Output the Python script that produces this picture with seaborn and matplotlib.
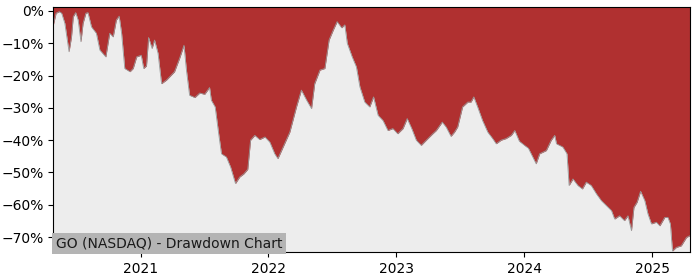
import matplotlib
matplotlib.use("Agg")
import matplotlib.pyplot as plt
import matplotlib.dates as mdates
from matplotlib.ticker import PercentFormatter
import seaborn as sns
import pandas as pd

dates = [
    "2020-04-27", "2020-05-05", "2020-05-14", "2020-05-21", "2020-05-30", "2020-06-11",
    "2020-06-18", "2020-06-23", "2020-06-30", "2020-07-07", "2020-07-15", "2020-07-21",
    "2020-07-29", "2020-08-04", "2020-08-14", "2020-08-28", "2020-09-07", "2020-09-24",
    "2020-10-05", "2020-10-15", "2020-10-24", "2020-11-01", "2020-11-08", "2020-11-17",
    "2020-12-02", "2020-12-11", "2020-12-21", "2021-01-03", "2021-01-10", "2021-01-18",
    "2021-01-24", "2021-02-03", "2021-02-10", "2021-02-20", "2021-03-02", "2021-03-16",
    "2021-04-08", "2021-04-23", "2021-05-05", "2021-05-12", "2021-05-21", "2021-06-05",
    "2021-06-19", "2021-07-03", "2021-07-17", "2021-07-22", "2021-08-02", "2021-08-12",
    "2021-08-20", "2021-09-03", "2021-09-15", "2021-09-29", "2021-10-11", "2021-10-23",
    "2021-11-03", "2021-11-11", "2021-11-23", "2021-12-07", "2021-12-22", "2022-01-05",
    "2022-01-19", "2022-01-28", "2022-02-12", "2022-03-03", "2022-03-22", "2022-04-05",
    "2022-04-20", "2022-05-04", "2022-05-13", "2022-05-28", "2022-06-11", "2022-06-23",
    "2022-07-05", "2022-07-16", "2022-07-29", "2022-08-07", "2022-08-14", "2022-08-28",
    "2022-09-09", "2022-09-19", "2022-10-03", "2022-10-17", "2022-10-28", "2022-11-10",
    "2022-11-24", "2022-12-08", "2022-12-22", "2023-01-05", "2023-01-20", "2023-02-01",
    "2023-02-14", "2023-02-27", "2023-03-13", "2023-04-01", "2023-04-15", "2023-04-25",
    "2023-05-12", "2023-05-23", "2023-06-06", "2023-06-16", "2023-06-25", "2023-07-09",
    "2023-07-24", "2023-08-02", "2023-08-10", "2023-08-21", "2023-09-04", "2023-09-19",
    "2023-10-03", "2023-10-13", "2023-10-27", "2023-11-10", "2023-11-25", "2023-12-05",
    "2023-12-18", "2024-01-02", "2024-01-13", "2024-02-04", "2024-02-14", "2024-03-04",
    "2024-03-18", "2024-03-28", "2024-04-02", "2024-04-20", "2024-05-02", "2024-05-08",
    "2024-05-19", "2024-06-02", "2024-06-15", "2024-06-26", "2024-07-10", "2024-07-25",
    "2024-08-08", "2024-08-22", "2024-09-06", "2024-09-15", "2024-09-29", "2024-10-13",
    "2024-10-23", "2024-11-02", "2024-11-09", "2024-11-18", "2024-11-28", "2024-12-10",
    "2024-12-19", "2024-12-29", "2025-01-12", "2025-01-22", "2025-02-05", "2025-02-14",
    "2025-02-21", "2025-02-27", "2025-03-10", "2025-03-24", "2025-04-08", "2025-04-17",
]
drawdown = [
    -4.4, -0.7, -0.2, -0.7, -3.8, -12.6,
    -8.0, -1.8, -0.5, -2.8, -9.5, -3.8,
    -0.7, -0.5, -4.9, -6.9, -12.1, -14.2,
    -6.9, -8.0, -2.8, -1.6, -6.9, -17.8,
    -18.8, -17.8, -14.2, -13.7, -17.8, -17.0,
    -8.2, -11.6, -9.0, -13.1, -22.5, -21.4,
    -18.8, -14.5, -10.6, -18.3, -26.1, -26.8,
    -25.4, -25.8, -23.7, -27.6, -29.7, -38.0,
    -44.2, -45.2, -48.3, -53.4, -51.4, -50.4,
    -49.0, -40.0, -38.5, -39.8, -39.0, -40.6,
    -44.2, -45.7, -42.1, -37.5, -29.7, -24.5,
    -27.6, -30.2, -22.5, -18.3, -17.8, -9.0,
    -5.9, -3.3, -5.2, -4.3, -10.0, -14.2,
    -17.3, -23.5, -28.2, -29.7, -26.6, -32.3,
    -33.9, -37.0, -36.4, -38.0, -36.4, -33.3,
    -36.4, -40.0, -41.6, -39.5, -38.0, -37.0,
    -34.4, -35.9, -38.8, -37.5, -35.9, -29.7,
    -28.2, -28.2, -26.6, -29.7, -33.9, -37.5,
    -39.5, -41.1, -40.0, -39.5, -38.5, -37.0,
    -40.3, -41.6, -42.5, -47.3, -44.2, -43.2,
    -40.0, -38.5, -41.1, -42.1, -44.2, -54.0,
    -52.0, -54.0, -55.1, -53.0, -54.0, -56.6,
    -58.7, -60.2, -61.8, -64.4, -63.4, -64.9,
    -63.4, -68.0, -60.8, -59.2, -55.8, -58.7,
    -62.8, -65.9, -65.4, -66.5, -63.9, -63.9,
    -65.9, -74.3, -73.2, -72.7, -70.1, -69.6,
]
year_ticks = ["2021-01-01", "2022-01-01", "2023-01-01", "2024-01-01", "2025-01-01"]
title = "GO (NASDAQ) - Drawdown Chart"

df = pd.DataFrame({"date": pd.to_datetime(dates), "dd": drawdown})

fig = plt.figure(figsize=(7, 2.8), dpi=100)
ax = fig.add_axes([0.0761, 0.099, 0.9096, 0.875])
ax.set_facecolor("#ededed")

top = 1.15
bottom = -74.7
ax.fill_between(df["date"], df["dd"], top, color="#b03030", linewidth=0, zorder=1)
sns.lineplot(data=df, x="date", y="dd", ax=ax, color="#999999", linewidth=0.6, zorder=2)

ax.set_xlim(pd.Timestamp("2020-04-27"), pd.Timestamp("2025-04-18"))
ax.set_ylim(bottom, top)
ax.set_xticks(pd.to_datetime(year_ticks))
ax.xaxis.set_major_formatter(mdates.DateFormatter("%Y"))
ax.yaxis.set_major_formatter(PercentFormatter(decimals=0))
ax.set_yticks([0, -10, -20, -30, -40, -50, -60, -70])
ax.set_xlabel("")
ax.set_ylabel("")
ax.tick_params(labelsize=10)

ax.text(0.004, 0.006, title, transform=ax.transAxes, fontsize=10,
        color="#1a1a1a", ha="left", va="bottom", zorder=5,
        bbox=dict(facecolor="#b4b4b4", edgecolor="none", pad=2.5))

fig.savefig("out.png", dpi=100)
